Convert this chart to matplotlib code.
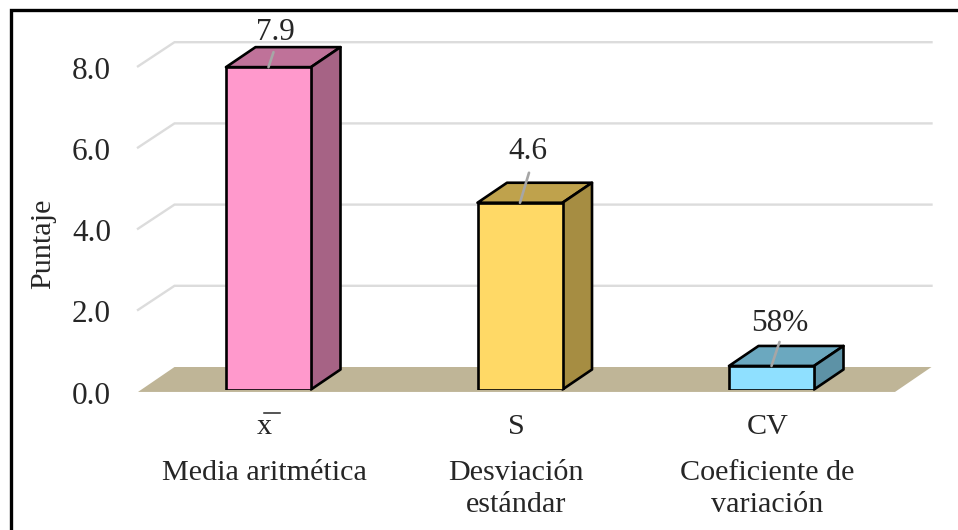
import matplotlib
matplotlib.use("Agg")
import matplotlib.pyplot as plt
from matplotlib.lines import Line2D
from matplotlib.patches import Polygon
from matplotlib.ticker import FormatStrFormatter
from matplotlib.transforms import ScaledTranslation

plt.rcParams["font.family"] = ["Liberation Serif", "DejaVu Serif"]

W = 958
H = 530
TXT = "#262626"
FS = 21.7
FS_NUM = 22.5

symbols = ["x", "S", "CV"]
names = ["Media aritmética", "Desviación\nestándar", "Coeficiente de\nvariación"]
values = [7.94, 4.6, 0.58]
value_labels = ["7.9", "4.6", "58%"]
yticks = [0, 2, 4, 6, 8]

front_colors = ["#FF99CC", "#FFD966", "#8FE0FF"]
top_colors = ["#BF7299", "#BFA24C", "#6BA8BF"]
side_colors = ["#A66385", "#A68D42", "#5D92A6"]

# pixel box of the front plane
left, right, bottom, top = 138, 895, 389.5, 64.7
unit_x = 251.5
xl = -130.5 / unit_x
xr = 2 + 123.5 / unit_x
width = 85 / unit_x
bar_dx = 29.5 / unit_x
bar_dy = 20 / 40.6
wall_dx = 36.5 / unit_x
wall_dy = 22.5 / 40.6
edge = 1.9

fig = plt.figure(figsize=(W / 100, H / 100), dpi=100)
ax = fig.add_axes([left / W, 1 - bottom / H, (right - left) / W, (bottom - top) / H])
ax.set_xlim(xl, xr)
ax.set_ylim(0, 8)
ax.patch.set_visible(False)
for s in ax.spines.values():
    s.set_visible(False)

# floor and walls
ax.add_patch(Polygon([(xl, -0.06), (xl + wall_dx, wall_dy), (xr + wall_dx, wall_dy), (xr, -0.06)],
                     closed=True, fc="#BFB597", ec="none", zorder=1, clip_on=False))
for k in yticks[1:]:
    ax.plot([xl, xl + wall_dx, xr + wall_dx], [k - 0.04, k + wall_dy, k + wall_dy],
            color="#DCDCDC", lw=1.7, zorder=1, clip_on=False, solid_joinstyle="miter")

# bars
x_pos = range(len(values))
ax.bar(x_pos, values, width=width, color=front_colors, edgecolor="black", linewidth=edge, zorder=3)
for i, v in enumerate(values):
    a = i - width / 2
    b = i + width / 2
    ax.add_patch(Polygon([(a, v), (a + bar_dx, v + bar_dy), (b + bar_dx, v + bar_dy), (b, v)],
                         closed=True, fc=top_colors[i], ec="black", lw=edge, zorder=2.5,
                         joinstyle="round", clip_on=False))
    ax.add_patch(Polygon([(b, 0), (b + bar_dx, bar_dy), (b + bar_dx, v + bar_dy), (b, v)],
                         closed=True, fc=side_colors[i], ec="black", lw=edge, zorder=2.5,
                         joinstyle="round", clip_on=False))

# value labels with leader lines, offsets in pixels
label_off = [(7, 35), (8, 51), (8, 42)]
leader_end = [(5, 15), (9, 30), (8, 24)]
for i, v in enumerate(values):
    ex, ey = leader_end[i]
    ax.annotate("", xy=(i, v), xytext=(ex, ey), textcoords="offset pixels",
                arrowprops=dict(arrowstyle="-", color="#A6A6A6", lw=1.9, shrinkA=0, shrinkB=0),
                zorder=4, annotation_clip=False)
    ax.annotate(value_labels[i], xy=(i, v), xytext=label_off[i], textcoords="offset pixels",
                ha="center", va="center", fontsize=FS_NUM, color=TXT, annotation_clip=False)

# axis text
ax.set_xticks([])
ax.set_yticks(yticks)
ax.yaxis.set_major_formatter(FormatStrFormatter("%.1f"))
ax.tick_params(axis="y", length=0, pad=19.5, labelsize=FS_NUM, labelcolor=TXT)
shift = ScaledTranslation(0, -3 / 100, fig.dpi_scale_trans)
for lab in ax.get_yticklabels():
    lab.set_transform(lab.get_transform() + shift)
ax.set_ylabel("Puntaje", fontsize=FS, color=TXT)
ax.yaxis.set_label_coords(-0.108, 0.448)

for i in x_pos:
    ax.annotate(symbols[i], xy=(i, 0), xytext=(-4, -38), textcoords="offset pixels",
                ha="center", va="center", fontsize=FS, color=TXT, annotation_clip=False)
    ax.annotate(names[i], xy=(i, 0), xytext=(-4, -71), textcoords="offset pixels",
                ha="center", va="top", fontsize=FS, color=TXT, linespacing=1.27,
                annotation_clip=False)

# bar over the x, and the picture's frame
fig.add_artist(Line2D([264 / W, 280 / W], [1 - 413 / H, 1 - 413 / H], color=TXT, lw=1.1))
fig.add_artist(Line2D([10.5 / W, 10.5 / W, 1], [0, 1 - 9.5 / H, 1 - 9.5 / H], color="black", lw=2.4,
                      solid_joinstyle="miter"))

fig.savefig("out.png", dpi=100, facecolor="white")
